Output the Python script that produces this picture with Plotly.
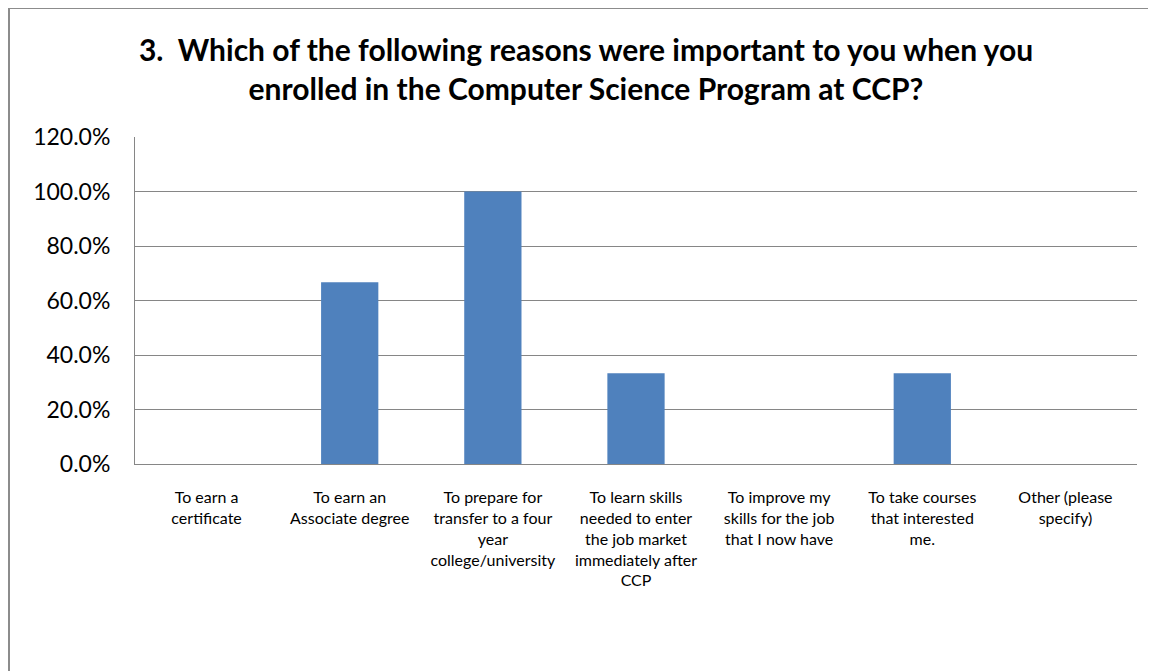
import plotly.graph_objects as go

categories = [
    "To earn a<br>certificate",
    "To earn an<br>Associate degree",
    "To prepare for<br>transfer to a four<br>year<br>college/university",
    "To learn skills<br>needed to enter<br>the job market<br>immediately after<br>CCP",
    "To improve my<br>skills for the job<br>that I now have",
    "To take courses<br>that interested<br>me.",
    "Other (please<br>specify)",
]
values = [0.0, 0.667, 1.0, 0.333, 0.0, 0.333, 0.0]
y_ticks = [0, 0.2, 0.4, 0.6, 0.8, 1.0, 1.2]
y_tick_labels = ["0.0%", "20.0%", "40.0%", "60.0%", "80.0%", "100.0%", "120.0%"]
title_text = ("<b>3.  Which of the following reasons were important to you when you<br>"
              "enrolled in the Computer Science Program at CCP?</b>")

FONT = "Lato"
W, H = 1156, 671
ML, MR, MT, MB = 127, 27, 129, 215
PW = W - ML - MR
PH = H - MT - MB

fig = go.Figure()
fig.add_trace(go.Bar(
    x=categories, y=values,
    marker=dict(color="#4F81BD", line=dict(width=0)),
    hoverinfo="skip",
))

fig.update_layout(
    width=W, height=H,
    margin=dict(l=ML, r=MR, t=MT, b=MB),
    paper_bgcolor="white", plot_bgcolor="white",
    bargap=0.6,
    showlegend=False,
    title=dict(text=title_text, x=0.5, xanchor="center", y=1 - 53 / H, yanchor="top",
               font=dict(family=FONT, size=30, color="#000000")),
    font=dict(family=FONT, color="#000000"),
    xaxis=dict(
        showgrid=False, showline=True, linecolor="#868686", linewidth=1,
        tickfont=dict(family=FONT, size=16, color="#000000"),
        ticks="", ticklabelstandoff=19, tickangle=0,
        fixedrange=True,
    ),
    yaxis=dict(
        range=[0, 1.2], tickvals=y_ticks, ticktext=y_tick_labels,
        showgrid=True, gridcolor="#868686", gridwidth=1,
        showline=True, linecolor="#868686", linewidth=1,
        tickfont=dict(family=FONT, size=23, color="#000000"),
        ticks="", ticklabelstandoff=19, zeroline=False,
        fixedrange=True,
    ),
    shapes=[
        dict(type="line", xref="paper", yref="paper",
             x0=(1 - ML) / PW, x1=(1 - ML) / PW,
             y0=(MT + PH - 0) / PH, y1=(MT + PH - 700) / PH,
             line=dict(color="#8C8C8C", width=2)),
        dict(type="line", xref="paper", yref="paper",
             x0=(0 - ML) / PW, x1=(W + 10 - ML) / PW,
             y0=(MT + PH - 0) / PH, y1=(MT + PH - 0) / PH,
             line=dict(color="#8C8C8C", width=2)),
    ],
)

fig.write_html("out.html")
